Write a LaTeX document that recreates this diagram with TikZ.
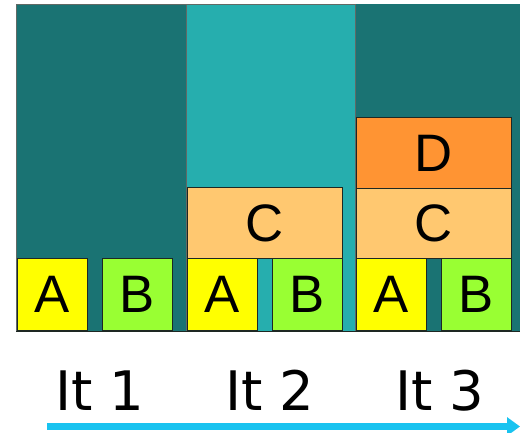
\documentclass[tikz,border=0pt]{standalone}
\usepackage{fontspec}
\setmainfont{Liberation Sans}
\newfontfamily\itfont{DejaVu Sans}
\usetikzlibrary{arrows.meta}
\definecolor{CDK}{RGB}{26,115,115}
\definecolor{CLT}{RGB}{38,174,174}
\definecolor{CA}{RGB}{255,255,0}
\definecolor{CB}{RGB}{153,255,51}
\definecolor{CC}{RGB}{255,200,112}
\definecolor{CD}{RGB}{255,148,51}
\definecolor{CAR}{RGB}{25,195,240}
\definecolor{CBRD}{RGB}{30,40,35}

\tikzset{
  blk/.style={draw=CBRD,line width=0.7pt,inner sep=0pt,anchor=south west,
    font=\fontsize{60}{60}\selectfont},
  sq/.style={blk,minimum width=2.80cm,minimum height=2.88cm},
  wide/.style={blk,minimum width=6.20cm,minimum height=2.84cm},
  itlbl/.style={anchor=base,font=\itfont\fontsize{62}{62}\selectfont}
}

\begin{document}
\begin{tikzpicture}
  \useasboundingbox (0cm,0cm) rectangle (20.8000cm,17.2800cm);
  \fill[white] (0cm,0cm) rectangle (20.8000cm,17.2800cm);
  % iteration panels
  \fill[CDK] (0.6400cm,4.0400cm) rectangle (7.4400cm,17.1200cm);
  \fill[CLT] (7.4400cm,4.0400cm) rectangle (14.2000cm,17.1200cm);
  \fill[CDK] (14.2000cm,4.0400cm) rectangle (20.8000cm,17.1200cm);
  \draw[CBRD!70,line width=0.5pt] (0.6400cm,4.0400cm) rectangle (7.4400cm,17.1200cm);
  \draw[CBRD!70,line width=0.5pt] (7.4400cm,4.0400cm) rectangle (14.2000cm,17.1200cm);
  \draw[CBRD!70,line width=0.5pt] (14.2000cm,4.0400cm) -- (14.2000cm,17.1200cm);
  \draw[CBRD,line width=0.8pt] (0.6400cm,4.0400cm) -- (20.8000cm,4.0400cm);
  % It 1
  \node[sq,fill=CA] (a1) at (0.6800cm,4.0400cm) {A};
  \node[sq,fill=CB] (b1) at (4.0800cm,4.0400cm) {B};
  % It 2
  \node[sq,fill=CA] (a2) at (7.4800cm,4.0400cm) {A};
  \node[sq,fill=CB] (b2) at (10.8800cm,4.0400cm) {B};
  \node[wide,fill=CC] (c2) at (7.4800cm,6.9200cm) {C};
  % It 3
  \node[sq,fill=CA] (a3) at (14.2400cm,4.0400cm) {A};
  \node[sq,fill=CB] (b3) at (17.6400cm,4.0400cm) {B};
  \node[wide,fill=CC] (c3) at (14.2400cm,6.9200cm) {C};
  \node[wide,fill=CD] (d3) at (14.2400cm,9.7200cm) {D};
  % labels and time arrow
  \node[itlbl] (it1) at (4.0000cm,0.8800cm) {It 1};
  \node[itlbl] (it2) at (10.8000cm,0.8800cm) {It 2};
  \node[itlbl] (it3) at (17.6000cm,0.8800cm) {It 3};
  \coordinate (tstart) at (1.8800cm,0.2200cm);
  \coordinate (tend) at (20.8000cm,0.2200cm);
  \draw[CAR,line width=0.28cm,-{Triangle[length=0.52cm,width=0.72cm]}] (tstart) -- (tend);
\end{tikzpicture}
\end{document}
